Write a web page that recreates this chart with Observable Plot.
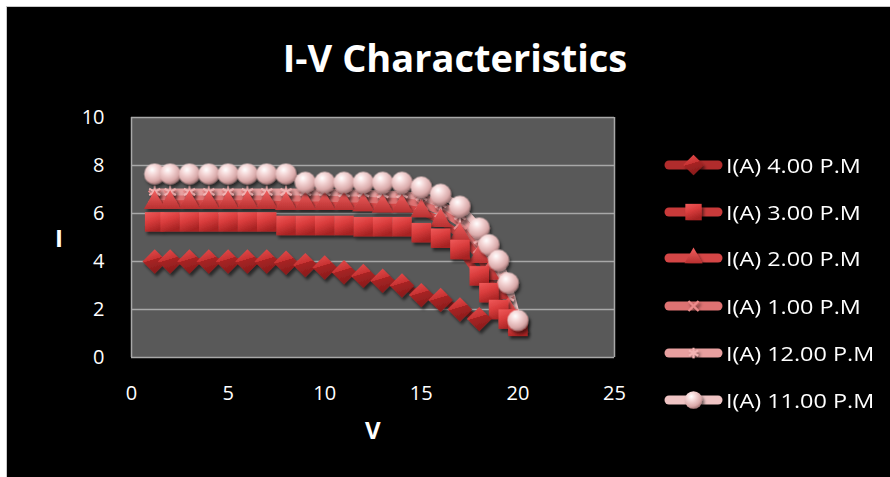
<!DOCTYPE html>
<html><head><meta charset="utf-8">
<script src="https://cdn.jsdelivr.net/npm/d3@7"></script>
<script src="https://cdn.jsdelivr.net/npm/@observablehq/plot@0.6"></script>
<style>
html,body{margin:0;padding:0;background:#fff;width:890px;height:477px;overflow:hidden;font-family:"Open Sans",sans-serif;}
#panel{position:absolute;left:6px;top:6px;width:884px;height:471px;background:#000;border-left:1px solid #c8c8c8;border-top:1px solid #c8c8c8;box-sizing:border-box;}
#chart{position:absolute;left:7px;top:7px;}
.title{position:absolute;left:0;top:31px;width:910px;text-align:center;color:#fff;font-weight:700;font-size:38px;white-space:nowrap;}
.ylab{position:absolute;left:55px;top:221px;color:#fff;font-weight:700;font-size:24px;}
.xlab{position:absolute;left:365px;top:413px;color:#fff;font-weight:700;font-size:24px;}
.leg{position:absolute;left:664px;height:24px;display:flex;align-items:center;color:#fff;font-size:20px;white-space:nowrap;}
.leg svg{margin-right:3px;overflow:visible;}
.leg span{display:inline-block;transform:scaleX(1.17);transform-origin:left center;}
</style>
</head><body>
<svg width="0" height="0" style="position:absolute">
  <defs>
    <radialGradient id="gSphere" cx="38%" cy="30%" r="70%">
      <stop offset="0%" stop-color="#ffffff"/>
      <stop offset="35%" stop-color="#f5d7d7"/>
      <stop offset="80%" stop-color="#d9a9a9"/>
      <stop offset="100%" stop-color="#a97c7c"/>
    </radialGradient>
    <linearGradient id="gDiamond" x1="0" y1="0" x2="0.3" y2="1">
      <stop offset="0%" stop-color="#e65050"/>
      <stop offset="50%" stop-color="#c83232"/>
      <stop offset="51%" stop-color="#a82424"/>
      <stop offset="100%" stop-color="#8a1c1c"/>
    </linearGradient>
    <linearGradient id="gSquare" x1="0" y1="0" x2="0.4" y2="1">
      <stop offset="0%" stop-color="#f05a5a"/>
      <stop offset="50%" stop-color="#d93c3c"/>
      <stop offset="100%" stop-color="#a82424"/>
    </linearGradient>
    <linearGradient id="gTri" x1="0" y1="0" x2="0" y2="1">
      <stop offset="0%" stop-color="#f06060"/>
      <stop offset="100%" stop-color="#b83030"/>
    </linearGradient>
    <filter id="shadow" x="-50%" y="-50%" width="200%" height="200%">
      <feDropShadow dx="2" dy="3" stdDeviation="1.5" flood-color="#000" flood-opacity="0.55"/>
    </filter>
  </defs>
</svg>
<div id="panel"></div>
<div id="chart"></div>
<div class="title" id="title">I-V Characteristics</div>
<div class="ylab">I</div>
<div class="xlab">V</div>
<div id="legend"></div>
<script>
// ---- data ----
const seriesNames = ["I(A) 4.00 P.M","I(A) 3.00 P.M","I(A) 2.00 P.M","I(A) 1.00 P.M","I(A) 12.00 P.M","I(A) 11.00 P.M"];
const V_4pm = [1.2,2,3,4,5,6,7,8,9,10,11,12,13,14,15,16,17,18];
const V_all = [1.2,2,3,4,5,6,7,8,9,10,11,12,13,14,15,16,17,18,18.5,19,19.5,20];
const I_4pm  = [4.0,4.0,4.0,4.0,4.0,4.0,4.0,3.95,3.85,3.75,3.55,3.4,3.2,3.0,2.6,2.4,2.0,1.6];
const I_3pm  = [5.65,5.65,5.65,5.65,5.65,5.65,5.65,5.5,5.5,5.5,5.5,5.45,5.45,5.45,5.2,4.97,4.5,3.4,2.7,2.0,1.6,1.3];
const I_2pm  = [6.45,6.45,6.45,6.45,6.45,6.45,6.45,6.4,6.4,6.4,6.4,6.35,6.3,6.3,6.1,5.7,5.1,4.2,3.5,2.7,2.0,1.3];
const I_1pm  = [6.7,6.7,6.7,6.7,6.7,6.7,6.7,6.65,6.65,6.65,6.6,6.6,6.55,6.55,6.4,6.1,5.6,4.6,3.9,3.1,2.3,1.4];
const I_12pm = [6.9,6.9,6.9,6.9,6.9,6.9,6.9,6.9,6.9,6.9,6.85,6.85,6.8,6.8,6.7,6.4,5.9,4.9,4.2,3.4,2.5,1.5];
const I_11pm = [7.65,7.65,7.65,7.65,7.65,7.65,7.65,7.65,7.3,7.3,7.3,7.3,7.3,7.3,7.1,6.8,6.3,5.4,4.7,4.05,3.1,1.55];
const xTicks = [0,5,10,15,20,25];
const yTicks = [0,2,4,6,8,10];

// ---- styles per series ----
const styles = [
  {V: V_4pm, I: I_4pm,  line:"#b02c2c", symbol:"diamond2", r:11,  fill:"url(#gDiamond)", stroke:"none"},
  {V: V_all, I: I_3pm,  line:"#c83a3a", symbol:"square",   r:11,  fill:"url(#gSquare)",  stroke:"none"},
  {V: V_all, I: I_2pm,  line:"#d44646", symbol:"triangle", r:8,   fill:"url(#gTri)",     stroke:"none"},
  {V: V_all, I: I_1pm,  line:"#de7272", symbol:"times",    r:5.5, fill:"none",           stroke:"#ec8c8c"},
  {V: V_all, I: I_12pm, line:"#e8a0a0", symbol:"asterisk", r:6,   fill:"none",           stroke:"#f3b4b4"},
  {V: V_all, I: I_11pm, line:"#efc4c4", symbol:"circle",   r:10.5,fill:"url(#gSphere)",  stroke:"none"}
];
const rows = styles.map((s, k) => s.V.map((v, i) => ({V: v, I: s.I[i], series: seriesNames[k]})));

const lineMarks = styles.map((s, k) => Plot.line(rows[k], {x:"V", y:"I", stroke:s.line, strokeWidth:7, strokeLinejoin:"round", strokeLinecap:"round"}));
const dotOrder = [3,4,2,1,0,5];
const dotMarks = dotOrder.map(k => {
  const s = styles[k];
  return Plot.dot(rows[k], {x:"V", y:"I", symbol: () => s.symbol, r:s.r, fill:s.fill, stroke:s.stroke, strokeWidth:2});
});

const chart = Plot.plot({
  width: 883, height: 470,
  marginLeft: 124, marginRight: 276, marginTop: 110, marginBottom: 120,
  style: {background:"transparent", color:"#ffffff", fontFamily:"Open Sans", fontSize:"20px", overflow:"visible"},
  symbol: {type:"identity"},
  x: {domain:[0,25], ticks:xTicks, tickSize:0, tickPadding:28, label:null},
  y: {domain:[0,10], ticks:yTicks, tickSize:0, tickPadding:27, label:null},
  marks: [
    Plot.frame({fill:"#595959"}),
    Plot.ruleY(yTicks, {stroke:"#a8a8a8", strokeWidth:1.5}),
    Plot.ruleX([0, 25], {stroke:"#a8a8a8", strokeWidth:1.5}),
    ...lineMarks,
    ...dotMarks
  ]
});
document.getElementById("chart").appendChild(chart);
chart.querySelectorAll('g[aria-label="dot"]').forEach(g => g.setAttribute("filter","url(#shadow)"));

// ---- legend ----
const legend = document.getElementById("legend");
const legendTops = [153, 200, 246, 294, 341, 388];
const symMap = {diamond2:d3.symbolDiamond2, square:d3.symbolSquare, triangle:d3.symbolTriangle, times:d3.symbolTimes, asterisk:d3.symbolAsterisk, circle:d3.symbolCircle};
styles.forEach((s, k) => {
  const div = document.createElement("div");
  div.className = "leg";
  div.style.top = legendTops[k] + "px";
  const svg = d3.create("svg").attr("width", 59).attr("height", 24);
  svg.append("line").attr("x1", 5).attr("x2", 54).attr("y1", 12).attr("y2", 12)
     .attr("stroke", s.line).attr("stroke-width", 9).attr("stroke-linecap", "round");
  svg.append("path").attr("transform", "translate(29.5,12)")
     .attr("d", d3.symbol(symMap[s.symbol], Math.PI * s.r * s.r * 0.7)())
     .attr("fill", s.fill).attr("stroke", s.stroke).attr("stroke-width", 2)
     .attr("filter", "url(#shadow)");
  div.appendChild(svg.node());
  const span = document.createElement("span");
  span.textContent = seriesNames[k];
  div.appendChild(span);
  legend.appendChild(div);
});
</script>
</body></html>
